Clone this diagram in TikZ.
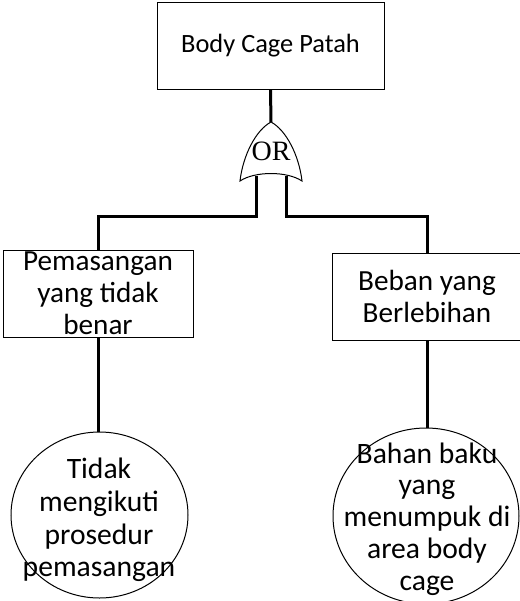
\documentclass[tikz,border=0pt]{standalone}
\usepackage{fontspec}
\setmainfont{Carlito}
\newfontfamily\orfont{Liberation Serif}
\usetikzlibrary{shapes.geometric}

\begin{document}
\begin{tikzpicture}[
  x=0.5pt, y=-0.5pt,
  evbox/.style={rectangle, draw, line width=0.5pt, minimum width=95pt,
              minimum height=43.5pt, align=center, inner sep=0pt,
              font=\fontsize{14.6}{16}\selectfont},
  topbox/.style={evbox, minimum width=113.5pt,
              font=\fontsize{13.2}{16}\selectfont},
  basicev/.style={ellipse, draw, line width=0.5pt, inner sep=0pt},
  basictxt/.style={align=center, inner sep=0pt,
              font=\fontsize{14.8}{16.3}\selectfont},
  conn/.style={line width=1.5pt},
]
\useasboundingbox (0,0) rectangle (520,601);

% top event
\node[topbox] (top) at (270.5,45.5) {Body Cage Patah};

% OR gate
\coordinate (gtip) at (271,122);
\coordinate (gl) at (256,175.5);
\coordinate (gr) at (286,175.5);
\draw[line width=0.5pt] (gtip) .. controls (256,130) and (243,155) .. (240,181)
  .. controls (255,171) and (287,171) .. (302,181)
  .. controls (299,155) and (286,130) .. (gtip);
\node[font=\orfont\fontsize{14}{16}\selectfont, inner sep=0pt] (gor)
  at (271,151) {OR};

% intermediate events
\node[evbox] (inst) at (98,293.5) {Pemasangan\\yang tidak\\benar};
\node[evbox] (load) at (427,296.5) {Beban yang\\Berlebihan};

% basic events
\node[basicev, minimum width=88.5pt, minimum height=83pt] (proc) at (99.5,515) {};
\node[basictxt] (proctxt) at (99,520)
  {Tidak\\mengikuti\\prosedur\\pemasangan};
\node[basicev, minimum width=93pt, minimum height=88pt] (stock) at (426,516) {};
\node[basictxt, font=\fontsize{14.8}{15.9}\selectfont] (stocktxt) at (427,519)
  {Bahan baku\\yang\\menumpuk di\\area body\\cage};

% connectors
\coordinate (jl) at (256,216);
\coordinate (jr) at (286,216);
\draw[conn] (top.south) -- (gtip);
\draw[conn] (gl) -- (jl) -| (inst.north);
\draw[conn] (gr) -- (jr) -| (load.north);
\draw[conn] (inst.south) -- (inst.south |- proc.north);
\draw[conn] (load.south) -- (load.south |- stock.north);

\end{tikzpicture}
\end{document}
